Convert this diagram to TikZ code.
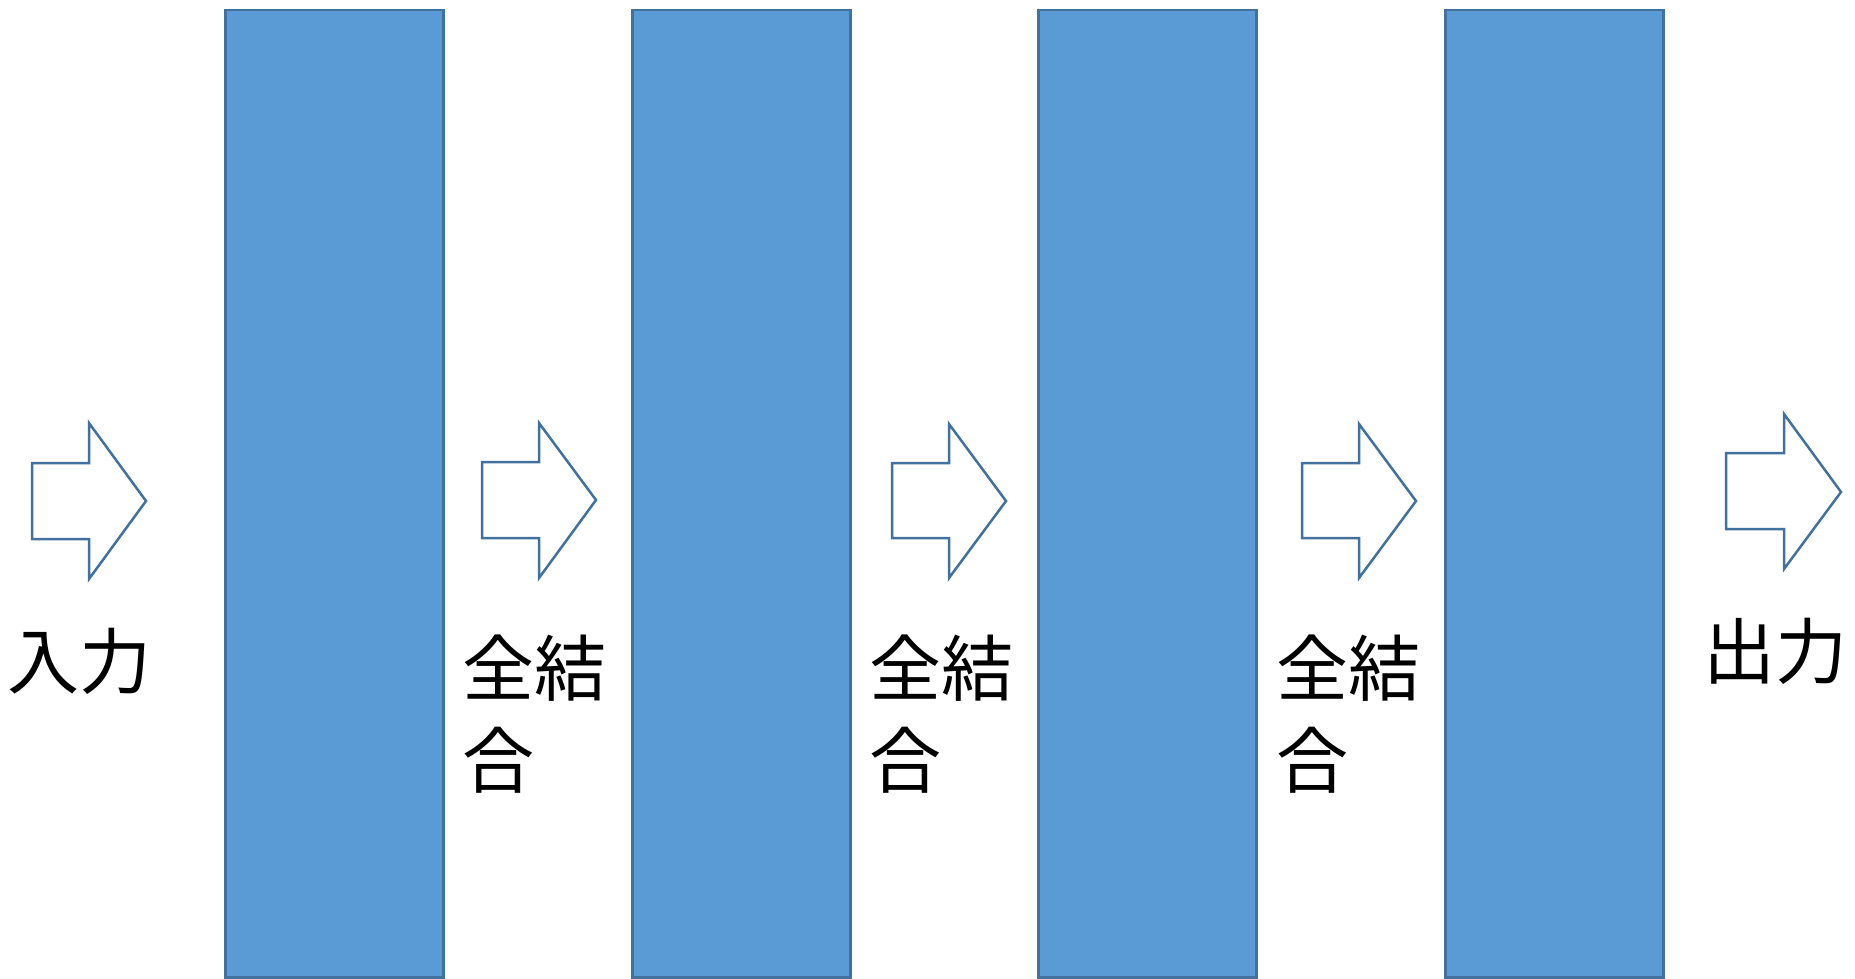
\documentclass[tikz,border=0pt]{standalone}
\usepackage{fontspec}
\newfontfamily\jpfont{Noto Sans CJK JP}
\definecolor{barfill}{HTML}{5B9BD5}
\definecolor{barline}{HTML}{41719C}
\tikzset{
  bar/.style={draw=barline, line width=2.5pt, fill=barfill, minimum width=218pt, minimum height=967pt, inner sep=0pt, anchor=north west},
  fatarrow/.style={draw=barline, line width=2.5pt, fill=white, line join=miter},
  label/.style={font=\jpfont\fontsize{72}{92}\selectfont, inner sep=0pt, text=black},
}
\begin{document}
\begin{tikzpicture}[x=1pt,y=-1pt]
\useasboundingbox (0,0) rectangle (1855,979);
% bars
\node[bar] (b1) at (224,9) {};
\node[bar] (b2) at (631,9) {};
\node[bar] (b3) at (1037,9) {};
\node[bar] (b4) at (1444,9) {};
% arrows
\draw[fatarrow] (32,463) -- (89,463) -- (89,423) -- (146,501) -- (89,579) -- (89,539) -- (32,539) -- cycle;
\draw[fatarrow] (482,462) -- (539,462) -- (539,423) -- (596,500) -- (539,578) -- (539,538) -- (482,538) -- cycle;
\draw[fatarrow] (892,463) -- (949,463) -- (949,424) -- (1006,501) -- (949,578) -- (949,538) -- (892,538) -- cycle;
\draw[fatarrow] (1302,463) -- (1359,463) -- (1359,424) -- (1416,501) -- (1359,578) -- (1359,538) -- (1302,538) -- cycle;
\draw[fatarrow] (1726,453) -- (1784,453) -- (1784,414) -- (1841,492) -- (1784,569) -- (1784,529) -- (1726,529) -- cycle;
% labels
\node[label] (in) at (80,661) {入力};
\node[label, align=left, anchor=west] (fc1) at (462,714) {全結\\合};
\node[label, align=left, anchor=west] (fc2) at (869,714) {全結\\合};
\node[label, align=left, anchor=west] (fc3) at (1276,714) {全結\\合};
\node[label] (out) at (1775,651) {出力};
\end{tikzpicture}
\end{document}
